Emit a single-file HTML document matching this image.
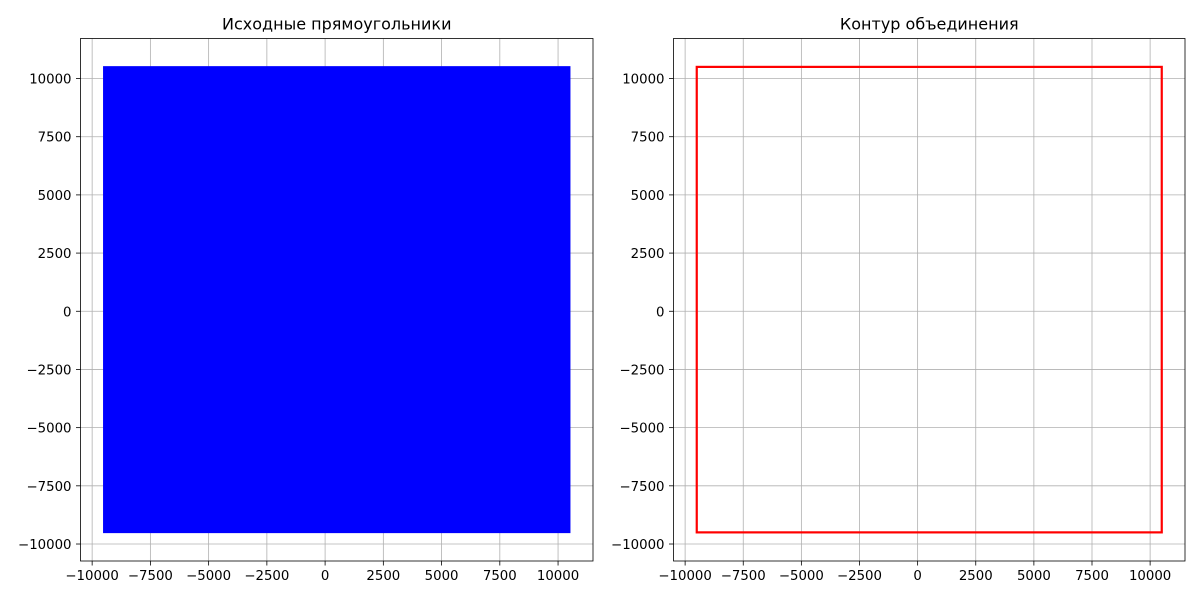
<!DOCTYPE html>
<html><head><meta charset="utf-8"><style>
body{margin:0;background:#fff;}
svg text{font-family:"DejaVu Sans","Liberation Sans",sans-serif;}
</style></head><body>
<svg id="c" width="1200" height="600" xmlns="http://www.w3.org/2000/svg"></svg>
<script>
const rectX = [-9500, 10500];
const rectY = [-9500, 10500];
const xTicks = [-10000, -7500, -5000, -2500, 0, 2500, 5000, 7500, 10000];
const yTicks = [-10000, -7500, -5000, -2500, 0, 2500, 5000, 7500, 10000];
const titles = ["Исходные прямоугольники", "Контур объединения"];
const xDomain = [-10500, 11500];
const yDomain = [-10730, 11720];
const panels = [{l:80.5, r:593}, {l:673.5, r:1185}];
const plotTop = 38.5, plotBot = 561;
const svg = document.getElementById('c');
const NS = 'http://www.w3.org/2000/svg';
function mk(tag, attrs, parent){const e=document.createElementNS(NS,tag);for(const k in attrs)e.setAttribute(k,attrs[k]);(parent||svg).appendChild(e);return e;}
panels.forEach((p, i) => {
  const g = mk('g', {});
  
  
  const sx = v => p.l + (v - xDomain[0]) / (xDomain[1] - xDomain[0]) * (p.r - p.l);
  const sy = v => plotBot - (v - yDomain[0]) / (yDomain[1] - yDomain[0]) * (plotBot - plotTop);
  xTicks.forEach(t => {
    const x = sx(t);
    const gl = mk('line', {x1:x, x2:x, y1:plotTop, y2:plotBot, stroke:'#b0b0b0', 'stroke-width':0.8}, g);
    
    
    mk('line', {x1:x, x2:x, y1:plotBot, y2:plotBot+4.5, stroke:'#000', 'stroke-width':0.8}, g);
    const tx = mk('text', {x:x, y:plotBot+19, 'font-size':13.3, 'text-anchor':'middle'}, g);
    tx.textContent = t < 0 ? '\u2212' + Math.abs(t) : String(t);
    
    
  });
  yTicks.forEach(t => {
    const y = sy(t);
    const gl = mk('line', {x1:p.l, x2:p.r, y1:y, y2:y, stroke:'#b0b0b0', 'stroke-width':0.8}, g);
    
    
    mk('line', {x1:p.l-4.5, x2:p.l, y1:y, y2:y, stroke:'#000', 'stroke-width':0.8}, g);
    const tx = mk('text', {x:p.l-9, y:y+5, 'font-size':13.3, 'text-anchor':'end'}, g);
    tx.textContent = t < 0 ? '\u2212' + Math.abs(t) : String(t);
    
    
  });
  const x0 = sx(rectX[0]), x1 = sx(rectX[1]), y0 = sy(rectY[1]), y1 = sy(rectY[0]);
  const r = mk('rect', {x:x0, y:y0, width:x1-x0, height:y1-y0,
    fill: i===0 ? '#0000ff' : 'none', stroke: i===0 ? '#0000ff' : '#ff0000', 'stroke-width': i===0 ? 1.5 : 2.2}, g);
  
  
  const fr = mk('rect', {x:p.l, y:plotTop, width:p.r-p.l, height:plotBot-plotTop, fill:'none', stroke:'#000', 'stroke-width':0.8}, g);
  
  
  const tt = mk('text', {x:(p.l+p.r)/2, y:plotTop-9, 'font-size':16, 'text-anchor':'middle'}, g);
  tt.textContent = titles[i];
  
  
});
</script>
</body></html>
